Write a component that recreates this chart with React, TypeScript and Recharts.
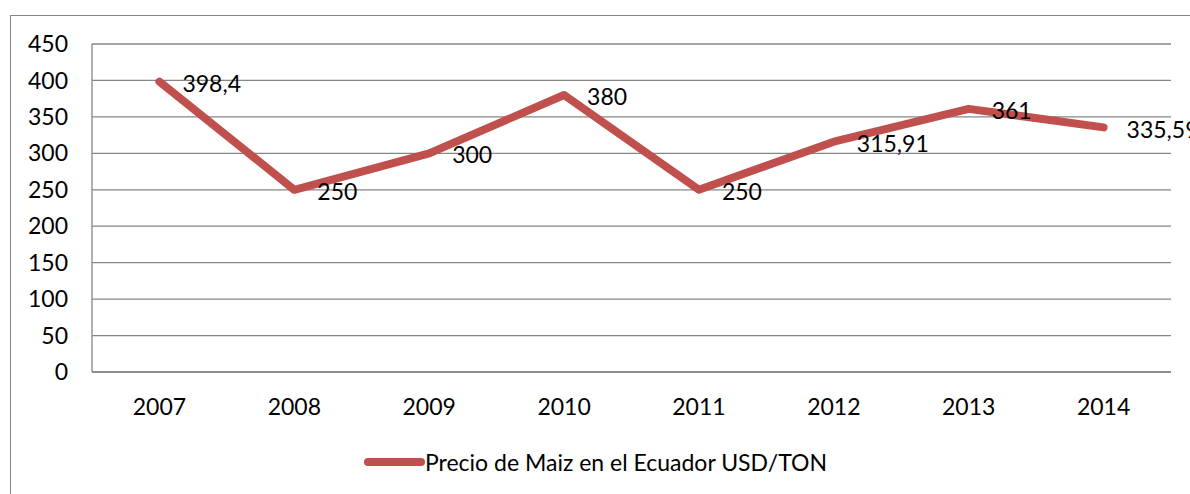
import { LineChart, Line, XAxis, YAxis, CartesianGrid, Legend, LabelList } from 'recharts'

const years = ['2007', '2008', '2009', '2010', '2011', '2012', '2013', '2014']
const precios = [398.4, 250, 300, 380, 250, 315.91, 361, 335.59]
const yTicks = [0, 50, 100, 150, 200, 250, 300, 350, 400, 450]

const seriesName = 'Precio de Maiz en el Ecuador USD/TON'
const data = years.map((y, i) => ({ year: y, precio: precios[i] }))

const RED = '#C0504D'
const GRID = '#868686'
const FONT = 'Lato, "Open Sans", sans-serif'

const fmtComma = (v: any) => String(v).replace('.', ',')

const LegendContent = () => (
  <div style={{ display: 'flex', alignItems: 'center', justifyContent: 'center', fontFamily: FONT, fontSize: 23, color: '#000' }}>
    <svg width={62} height={12}>
      <line x1={5} y1={6} x2={58} y2={6} stroke={RED} strokeWidth={8} strokeLinecap="round" />
    </svg>
    <span>{seriesName}</span>
  </div>
)

export default function App() {
  return (
    <div style={{ position: 'absolute', left: 0, top: 0, width: 1190, height: 494, overflow: 'hidden', background: '#fff' }}>
      {/* chart frame */}
      <div style={{ position: 'absolute', left: 10, top: 15, width: 1220, height: 520, border: `1.5px solid ${GRID}` }} />
      <LineChart
        width={1190}
        height={494}
        data={data}
        margin={{ top: 44, right: 19, left: 0, bottom: 0 }}
        style={{ position: 'absolute', left: 0, top: 0, fontFamily: FONT }}
      >
        <CartesianGrid vertical={false} stroke={GRID} strokeWidth={1.3} />
        <XAxis
          dataKey="year"
          scale="band"
          height={122}
          axisLine={{ stroke: GRID, strokeWidth: 1.3 }}
          tickLine={false}
          tickMargin={21}
          tick={{ fontSize: 23, fill: '#000' }}
        />
        <YAxis
          width={92}
          domain={[0, 450]}
          ticks={yTicks}
          axisLine={{ stroke: GRID, strokeWidth: 1.3 }}
          tickLine={false}
          tickMargin={18}
          tick={{ fontSize: 23, fill: '#000' }}
        />
        <Legend
          verticalAlign="middle"
          layout="horizontal"
          wrapperStyle={{ top: 448, left: 0, width: 1190 }}
          content={<LegendContent />}
        />
        <Line
          type="linear"
          dataKey="precio"
          name={seriesName}
          stroke={RED}
          strokeWidth={8}
          strokeLinecap="round"
          strokeLinejoin="round"
          dot={false}
          isAnimationActive={false}
        >
          <LabelList
            dataKey="precio"
            position="right"
            offset={23}
            dy={2}
            formatter={fmtComma}
            style={{ fontSize: 23, fill: '#000', fontFamily: FONT }}
          />
        </Line>
      </LineChart>
    </div>
  )
}
